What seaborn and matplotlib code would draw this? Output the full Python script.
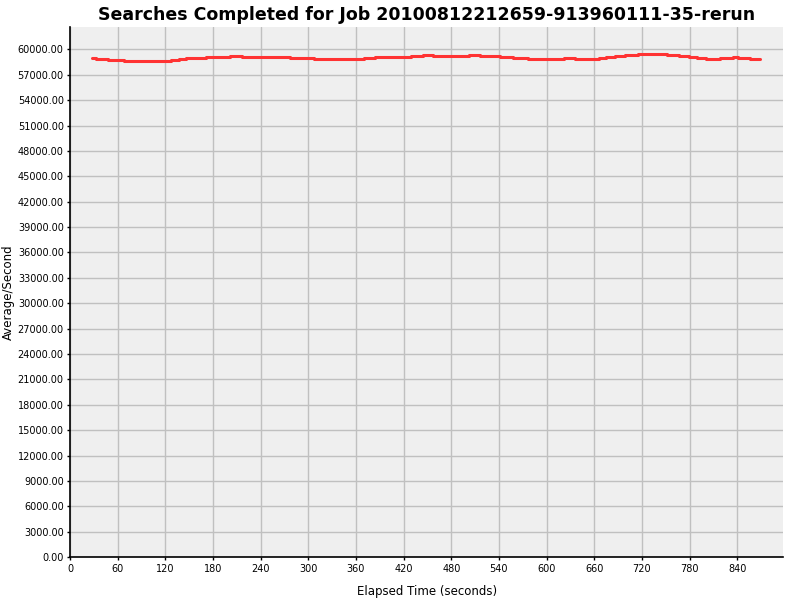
import numpy as np
import pandas as pd
import matplotlib
matplotlib.use('Agg')
import matplotlib.pyplot as plt
import seaborn as sns

# step start times (seconds) and the average/second value held from that time on
elapsed = [27.6, 33.1, 47.8, 67.5, 127.5, 137.6, 146.4, 171.6, 201.8, 216.5,
           276.5, 306.7, 369.6, 384.3, 429.2, 444.3, 456.5, 501.8, 516.5, 541.7,
           557.2, 576.1, 621.4, 636.1, 665.4, 675.1, 685.6, 699.0, 714.5, 751.5,
           767.0, 778.7, 789.2, 800.6, 818.6, 834.1, 841.6, 856.4, 869.0]
avg_per_sec = [58975, 58857, 58740, 58620, 58740, 58857, 58975, 59094, 59212, 59094,
               58975, 58857, 58975, 59094, 59212, 59370, 59251, 59370, 59251, 59133,
               59015, 58857, 58975, 58857, 58975, 59133, 59251, 59370, 59488, 59370,
               59251, 59133, 59015, 58857, 59015, 59133, 59015, 58857, 58857]

x_ticks = list(range(0, 841, 60))
y_ticks = list(range(0, 60001, 3000))

df = pd.DataFrame({'elapsed': elapsed, 'avg': avg_per_sec})

sns.set_style('whitegrid', {
    'axes.facecolor': '#efefef',
    'grid.color': '#c0c0c0',
    'axes.edgecolor': 'black',
    'text.color': 'black',
    'axes.labelcolor': 'black',
    'xtick.color': 'black',
    'ytick.color': 'black',
})
plt.rcParams['font.family'] = ['DejaVu Sans']

fig = plt.figure(figsize=(8, 6), dpi=100)
ax = fig.add_axes([0.0875, 0.0712, 0.8916, 0.8843])

sns.lineplot(data=df, x='elapsed', y='avg', ax=ax, color='#ff3333',
             linewidth=2.2, drawstyle='steps-post', estimator=None, sort=False)

ax.set_xlim(0, 898)
ax.set_ylim(0, 62670)
ax.set_xticks(x_ticks)
ax.set_yticks(y_ticks)
ax.set_xticklabels([str(t) for t in x_ticks])
ax.set_yticklabels([f'{v:.2f}' for v in y_ticks])
ax.grid(True, color='#c0c0c0', linewidth=1)
ax.set_axisbelow(True)

for side in ['top', 'right']:
    ax.spines[side].set_visible(False)
for side in ['left', 'bottom']:
    ax.spines[side].set_linewidth(1.2)
    ax.spines[side].set_color('black')

ax.tick_params(axis='both', direction='out', length=2.5, width=1, labelsize=7,
               colors='black', pad=2, left=True, bottom=True)

ax.set_xlabel('Elapsed Time (seconds)', fontsize=8.5, labelpad=8, color='black')
ax.set_ylabel('Average/Second', fontsize=8.5, labelpad=2, color='black')
ax.set_title('Searches Completed for Job 20100812212659-913960111-35-rerun',
             fontsize=12.5, fontweight='bold', pad=5, color='black')

fig.savefig('out.png', dpi=100)
